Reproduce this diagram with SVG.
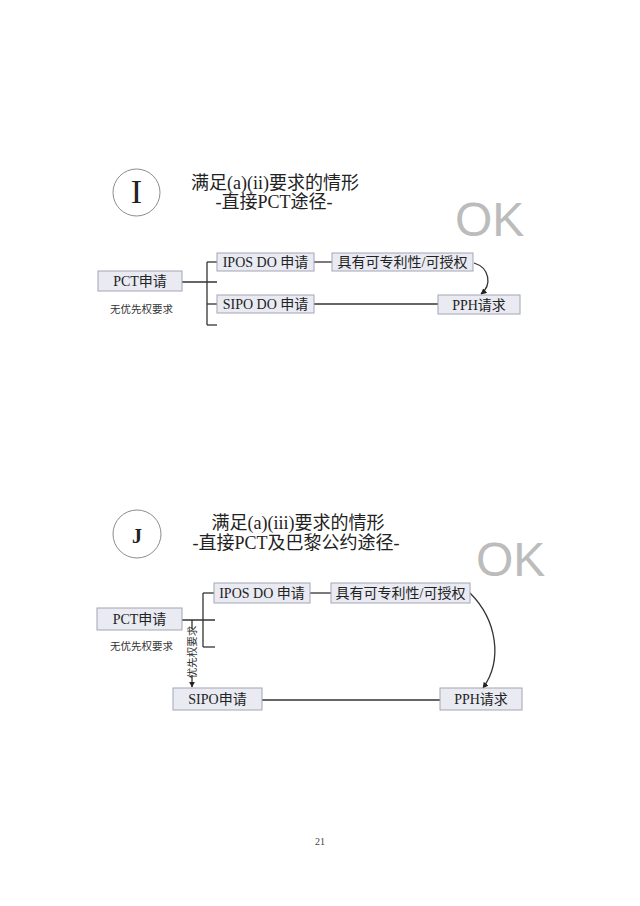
<svg xmlns="http://www.w3.org/2000/svg" width="640" height="906" viewBox="0 0 640 906">
<style>
.box{fill:#e9eaf2;stroke:#a4a6b4;stroke-width:1}
.bt{font-family:"Liberation Serif","Noto Sans CJK SC",serif;font-size:14px;fill:#222;text-anchor:middle}
.tt{font-family:"Liberation Serif","Noto Sans CJK SC",serif;font-size:18px;fill:#222;text-anchor:middle}
.sm{font-family:"Liberation Serif","Noto Sans CJK SC",serif;font-size:10.5px;fill:#333}
.ok{font-family:"Liberation Sans",Arial,sans-serif;font-size:48px;fill:#bcbcbc}
.ln{stroke:#333;stroke-width:1.3;fill:none}
.circ{fill:none;stroke:#8c8c8c;stroke-width:1}
</style>
<defs>
<marker id="ah" viewBox="0 0 10 10" refX="9" refY="5" markerWidth="6" markerHeight="6" orient="auto" markerUnits="userSpaceOnUse">
<path d="M0,0 L10,5 L0,10 z" fill="#222"/>
</marker>
</defs>
<rect width="640" height="906" fill="#fff"/>

<!-- Section I -->
<g id="badge-I">
<circle class="circ" cx="136.5" cy="192.5" r="23.5"/>
<text x="136.5" y="203" font-family="Liberation Serif,serif" font-size="34" text-anchor="middle" fill="#222">I</text>
</g>
<g id="title-I">
<text class="tt" x="275" y="189">满足(a)(ii)要求的情形</text>
<text class="tt" x="274" y="208">-直接PCT途径-</text>
</g>
<g id="ok-I"><text class="ok" x="455" y="236">OK</text></g>

<g id="connectors-I">
<line class="ln" x1="182" y1="282" x2="217" y2="282"/>
<line class="ln" x1="207" y1="262" x2="207" y2="325"/>
<line class="ln" x1="207" y1="262" x2="217" y2="262"/>
<line class="ln" x1="207" y1="304" x2="217" y2="304"/>
<line class="ln" x1="207" y1="325" x2="217" y2="325"/>
<line class="ln" x1="314" y1="262" x2="332" y2="262"/>
<line class="ln" x1="314" y1="304" x2="438" y2="304"/>
<path class="ln" d="M474,263 C490,268 492,285 481,294" marker-end="url(#ah)"/>
</g>

<g id="pct-I"><rect class="box" x="98" y="271" width="84" height="20"/><text class="bt" x="140" y="286">PCT申请</text></g>
<g id="nopri-I"><text class="sm" x="110" y="313">无优先权要求</text></g>
<g id="ipos-I"><rect class="box" x="217" y="253" width="97" height="18"/><text class="bt" x="265.5" y="267">IPOS DO 申请</text></g>
<g id="grant-I"><rect class="box" x="332" y="253" width="141" height="18"/><text class="bt" x="402.5" y="267">具有可专利性/可授权</text></g>
<g id="sipo-I"><rect class="box" x="217" y="295" width="97" height="18"/><text class="bt" x="265.5" y="309">SIPO DO 申请</text></g>
<g id="pph-I"><rect class="box" x="438" y="295" width="82" height="19"/><text class="bt" x="479" y="309.5">PPH请求</text></g>

<!-- Section J -->
<g id="badge-J">
<circle class="circ" cx="137" cy="534" r="24"/>
<text x="137" y="543" font-family="Liberation Serif,serif" font-size="20" font-weight="bold" text-anchor="middle" fill="#222">J</text>
</g>
<g id="title-J">
<text class="tt" x="298" y="529">满足(a)(iii)要求的情形</text>
<text class="tt" x="296" y="549">-直接PCT及巴黎公约途径-</text>
</g>
<g id="ok-J"><text class="ok" x="476" y="576">OK</text></g>

<g id="connectors-J">
<line class="ln" x1="182" y1="620" x2="215" y2="620"/>
<line class="ln" x1="203" y1="593" x2="203" y2="647"/>
<line class="ln" x1="203" y1="593" x2="214" y2="593"/>
<line class="ln" x1="203" y1="647" x2="215" y2="647"/>
<line class="ln" x1="310" y1="593" x2="331" y2="593"/>
<line class="ln" x1="262" y1="700" x2="440" y2="700"/>
<line class="ln" x1="192" y1="620" x2="192" y2="629"/>
<line class="ln" x1="192" y1="675" x2="192" y2="687" marker-end="url(#ah)"/>
<text class="sm" font-size="9.5" transform="translate(195.5,652) rotate(-90)" text-anchor="middle">优先权要求</text>
<path class="ln" d="M470,593 C497,620 503,660 483,688" marker-end="url(#ah)"/>
</g>

<g id="pct-J"><rect class="box" x="97" y="608" width="85" height="22"/><text class="bt" x="139.5" y="624">PCT申请</text></g>
<g id="nopri-J"><text class="sm" x="110" y="650">无优先权要求</text></g>
<g id="ipos-J"><rect class="box" x="214" y="583" width="96" height="20"/><text class="bt" x="262" y="598">IPOS DO 申请</text></g>
<g id="grant-J"><rect class="box" x="331" y="583" width="139" height="20"/><text class="bt" x="400.5" y="598">具有可专利性/可授权</text></g>
<g id="sipo-J"><rect class="box" x="173" y="688" width="89" height="22"/><text class="bt" x="217.5" y="704">SIPO申请</text></g>
<g id="pph-J"><rect class="box" x="440" y="688" width="82" height="22"/><text class="bt" x="481" y="704">PPH请求</text></g>

<g id="page"><text x="320" y="845" font-family="Liberation Serif,serif" font-size="10" text-anchor="middle" fill="#444">21</text></g>
</svg>
